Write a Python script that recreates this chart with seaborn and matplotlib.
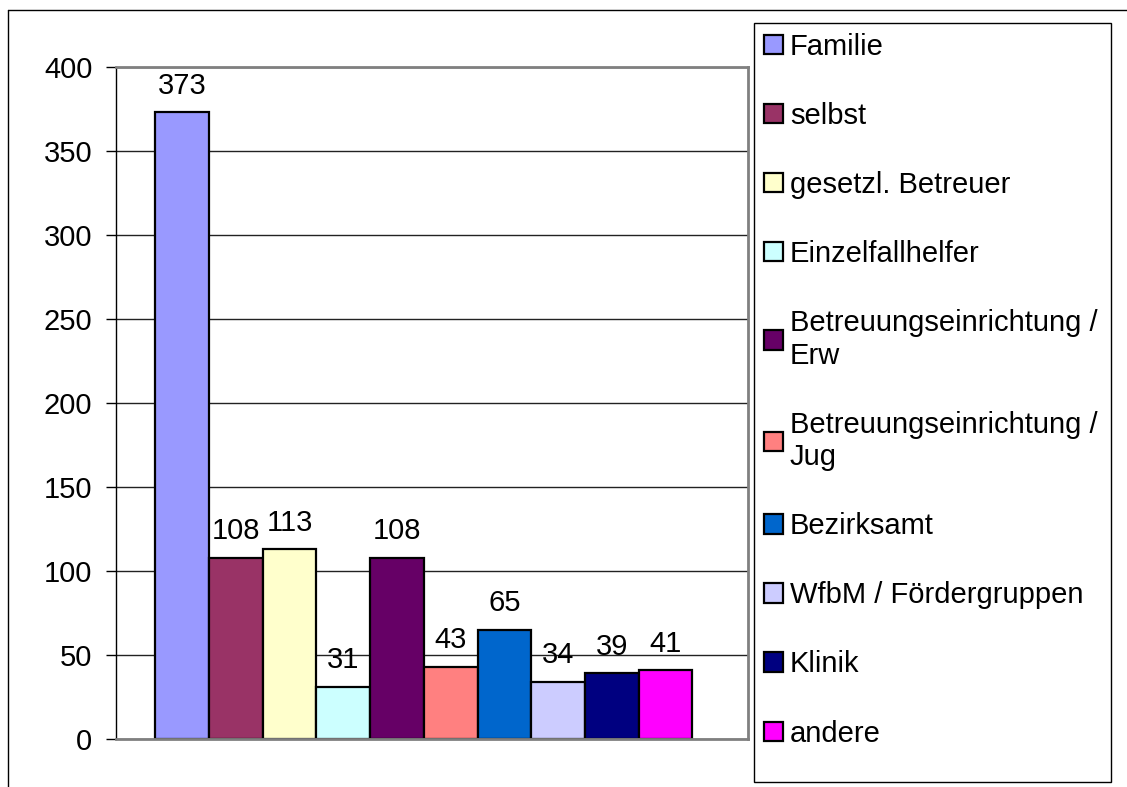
## bar chart: who initiated the contact (Excel-style look)

import matplotlib
matplotlib.use("Agg")
import matplotlib.pyplot as plt
from matplotlib.lines import Line2D
from matplotlib.patches import Rectangle
import seaborn as sns
from pandas import DataFrame

## data
categories = [
    "Familie",
    "selbst",
    "gesetzl. Betreuer",
    "Einzelfallhelfer",
    "Betreuungseinrichtung /\nErw",
    "Betreuungseinrichtung /\nJug",
    "Bezirksamt",
    "WfbM / Fördergruppen",
    "Klinik",
    "andere",
]
counts = [373, 108, 113, 31, 108, 43, 65, 34, 39, 41]
bar_colors = ["#9999FF", "#993366", "#FFFFCC", "#CCFFFF", "#660066",
              "#FF8080", "#0066CC", "#CCCCFF", "#000080", "#FF00FF"]
y_ticks = [0, 50, 100, 150, 200, 250, 300, 350, 400]


def main():
    sns.set_style("white")
    plt.rcParams['font.family'] = ['Liberation Sans', 'DejaVu Sans']
    plt.rcParams['text.color'] = 'black'
    plt.rcParams['ytick.color'] = 'black'
    plt.rcParams['ytick.labelcolor'] = 'black'

    FONT = 21
    W, H = 1127, 787
    my_figure = plt.figure(figsize=(W / 100, H / 100), dpi=100)
    # plot area in pixel coords of the reference
    left, right, top, bottom = 116, 748, 67, 739
    my_axes = my_figure.add_axes([left / W, 1 - bottom / H,
                                  (right - left) / W, (bottom - top) / H])

    my_dataframe = DataFrame({"group": [""] * len(categories),
                              "source": categories,
                              "count": counts})

    sns.barplot(data=my_dataframe, x="group", y="count", hue="source",
                hue_order=categories, palette=bar_colors, saturation=1,
                width=0.85, edgecolor="black", linewidth=1.6,
                ax=my_axes, legend=True)

    # value labels over every bar
    for container in my_axes.containers:
        my_axes.bar_label(container, padding=9, fontsize=FONT, color="black")

    my_axes.set_ylim(0, 400)
    my_axes.set_xlim(-0.487, 0.513)
    my_axes.set_yticks(y_ticks)
    my_axes.tick_params(axis="y", labelsize=FONT, left=True, length=7,
                        width=1, color="black", pad=10)
    my_axes.tick_params(axis="x", bottom=False, labelbottom=False)
    my_axes.set_xlabel("")
    my_axes.set_ylabel("")
    my_axes.yaxis.grid(True, color="#222222", linewidth=1)
    my_axes.set_axisbelow(True)

    for side in ["top", "right", "bottom"]:
        my_axes.spines[side].set_color("#808080")
        my_axes.spines[side].set_linewidth(2)
    my_axes.spines["left"].set_color("black")
    my_axes.spines["left"].set_linewidth(1)

    # legend on the right, frame drawn separately so it has the fixed size
    handles, labels = my_axes.get_legend_handles_labels()
    my_legend = my_axes.legend(handles, labels, loc="upper left",
                               bbox_to_anchor=(754 / W, 1 - 23 / H),
                               bbox_transform=my_figure.transFigure,
                               borderaxespad=0, fontsize=FONT, frameon=False,
                               handlelength=0.65, handleheight=0.65,
                               handletextpad=0.25, labelspacing=1.41,
                               borderpad=0.33)
    for patch in my_legend.get_patches():
        patch.set_linewidth(1.6)
        patch.set_edgecolor("black")
    my_figure.add_artist(Rectangle((754 / W, 1 - 782 / H),
                                   (1111 - 754) / W, (782 - 23) / H,
                                   transform=my_figure.transFigure,
                                   facecolor="none", edgecolor="black",
                                   linewidth=1))

    # outer chart border (cut off on the right and bottom)
    my_figure.add_artist(Line2D([8 / W, 1.01], [1 - 10 / H, 1 - 10 / H],
                                transform=my_figure.transFigure,
                                color="black", linewidth=1))
    my_figure.add_artist(Line2D([8 / W, 8 / W], [1 - 10 / H, -0.01],
                                transform=my_figure.transFigure,
                                color="black", linewidth=1))

    my_figure.savefig("out.png", dpi=100)


if __name__ == '__main__':
    main()
